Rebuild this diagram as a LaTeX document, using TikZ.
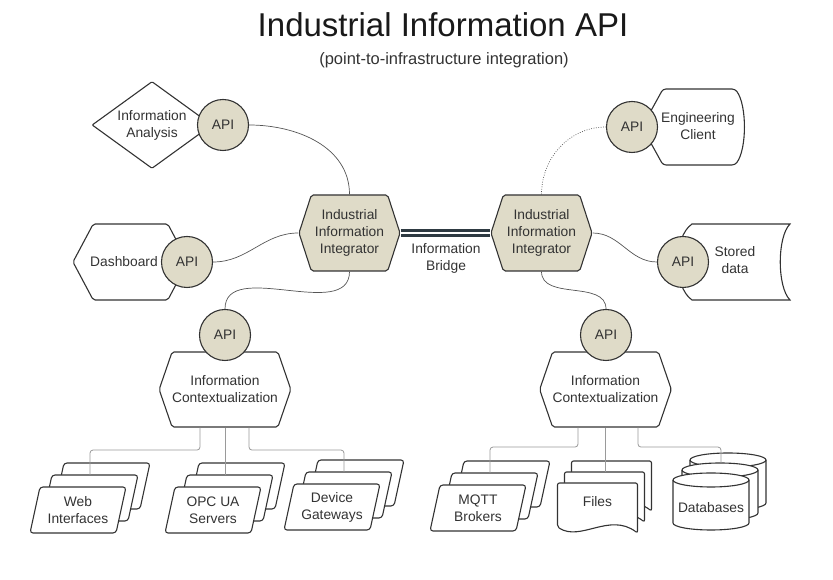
\documentclass[tikz,border=0pt]{standalone}
\usepackage{fontspec}
\setmainfont{Liberation Sans}
\usetikzlibrary{shapes.geometric,shapes.symbols}

\definecolor{ink}{HTML}{333333}
\definecolor{beige}{RGB}{223,219,200}
\definecolor{wiregray}{HTML}{555555}
\definecolor{feedgray}{HTML}{9A9A9A}
\definecolor{bridgeink}{HTML}{2E3A42}

\tikzset{
  lbl/.style={text=ink, align=center, font=\fontsize{13.8}{17}\selectfont, inner sep=0pt},
  outline/.style={draw=ink, line width=1.1pt},
  apinode/.style={circle, outline, fill=beige, minimum size=51pt, lbl},
  hexbox/.style={signal, signal to=west and east, outline, lbl, rounded corners=2pt},
  integ/.style={hexbox, fill=beige, minimum width=101pt, minimum height=76pt, signal pointer angle=144},
  ctx/.style={hexbox, fill=white, minimum width=131pt, minimum height=75pt, signal pointer angle=142},
  wire/.style={draw=wiregray, line width=0.7pt},
  feed/.style={draw=feedgray, line width=0.8pt, rounded corners=3pt},
  bridgeline/.style={draw=bridgeink, line width=2.6pt, double=white, double distance=2.2pt},
  cards/.pic={
    \foreach \d in {24,12,0}
      \draw[outline, fill=white, rounded corners=3pt] (-38+\d,23+\d) -- (48+\d,23+\d) -- (38+\d,-23+\d) -- (-48+\d,-23+\d) -- cycle;
    \node[lbl] (-txt) at (0,0) {#1};
    \coordinate (-top) at (12,35);
  },
  docs/.pic={
    \foreach \d/\e in {14/22,7/11,0/0}
      \draw[outline, fill=white, rounded corners=2pt, shift={(\d,\e)}] (-40,22) -- (40,22) -- (40,-28) .. controls (12,-7) and (-17,-37) .. (-40,-22) -- cycle;
    \node[lbl] (-txt) at (0,3) {#1};
    \coordinate (-top) at (7,33);
  },
  dbs/.pic={
    \foreach \d/\e in {17/20,9/10,0/0} {
      \draw[outline, fill=white, shift={(\d,\e)}] (-38,21.5) -- (-38,-21.5) arc[start angle=180, end angle=360, x radius=38, y radius=7] -- (38,21.5) arc[start angle=0, end angle=180, x radius=38, y radius=7] -- cycle;
      \draw[outline, shift={(\d,\e)}] (-38,21.5) arc[start angle=180, end angle=360, x radius=38, y radius=7];
    }
    \node[lbl] (-txt) at (0,-6) {#1};
    \coordinate (-top) at (10,38.5);
  }
}

\begin{document}
\begin{tikzpicture}[x=1pt,y=1pt]
\useasboundingbox (0,0) rectangle (833,580);

\node[text=black!90, inner sep=0pt, font=\fontsize{33}{36}\selectfont] (title) at (443,555) {Industrial Information API};
\node[lbl, font=\fontsize{16.5}{18}\selectfont] (subtitle) at (444,520) {(point-to-infrastructure integration)};

% consumers on the left
\node[diamond, outline, fill=white, lbl, minimum width=120pt, minimum height=87pt, aspect=1.38, rounded corners=1pt] (analysis) at (152,455) {Information\\Analysis};
\node[apinode] (apiA) at (223,455) {API};

\node[hexbox, fill=white, minimum width=115pt, minimum height=76pt, signal pointer angle=124] (dash) at (130.5,318) {};
\node[lbl] (dashtxt) at (124,318) {Dashboard};
\node[apinode] (apiD) at (187,318) {API};

% integrators
\node[integ] (integL) at (349.5,347) {Industrial\\Information\\Integrator};
\node[integ] (integR) at (541.5,347) {Industrial\\Information\\Integrator};
\node[lbl] (bridge) at (446,322) {Information\\Bridge};

% consumers on the right
\draw[outline, fill=white, rounded corners=3pt] (663,491) -- (735,491) .. controls (747,475) and (747,431) .. (735,415) -- (663,415) -- (642,453) -- cycle;
\node[lbl] (engtxt) at (698,454) {Engineering\\Client};
\node[apinode] (apiE) at (632,453) {API};

\draw[outline, fill=white] (692,356) -- (790,356) .. controls (777,343) and (777,293) .. (790,280) -- (692,280) .. controls (673,293) and (673,343) .. (692,356) -- cycle;
\node[lbl] (storetxt) at (735,320) {Stored\\data};
\node[apinode] (apiS) at (683,318) {API};

% contextualization
\node[ctx] (ctxL) at (225,190.5) {Information\\Contextualization};
\node[apinode] (apiCL) at (225,245) {API};
\node[ctx] (ctxR) at (605.5,190.5) {Information\\Contextualization};
\node[apinode] (apiCR) at (606,245) {API};

% sources
\pic (web) at (78,70) {cards={Web\\Interfaces}};
\pic (opc) at (213,70) {cards={OPC UA\\Servers}};
\pic (dev) at (332,73) {cards={Device\\Gateways}};
\pic (mqtt) at (478,72) {cards={MQTT\\Brokers}};
\pic (files) at (597.5,75) {docs={Files}};
\pic (db) at (711,78.5) {dbs={Databases}};

% connectors
\draw[wire] (apiA.east) to[out=0,in=90] (integL.north);
\draw[wire] (apiD.east) to[out=0,in=180] (integL.west);
\draw[wire] (integL.south) to[out=-90,in=90] (apiCL.north);
\draw[wire, dash pattern=on 0.8pt off 1.6pt] (integR.north) to[out=90,in=180] (apiE.west);
\draw[wire] (integR.east) to[out=0,in=180] (apiS.west);
\draw[wire] (integR.south) to[out=-90,in=90] (apiCR.north);
\draw[bridgeline] (integL.east) -- (integR.west);

\draw[feed] ([xshift=-25pt]ctxL.south) -- ++(0,-22.5) -| (web-top);
\draw[feed] (ctxL.south) -- (ctxL.south |- opc-top);
\draw[feed] ([xshift=24pt]ctxL.south) -- ++(0,-22.5) -| (dev-top);
\draw[feed] ([xshift=-27.5pt]ctxR.south) -- ++(0,-19.5) -| (mqtt-top);
\draw[feed] (ctxR.south) -- (ctxR.south |- files-top);
\draw[feed] ([xshift=32.5pt]ctxR.south) -- ++(0,-19.5) -| (db-top);
\end{tikzpicture}
\end{document}
